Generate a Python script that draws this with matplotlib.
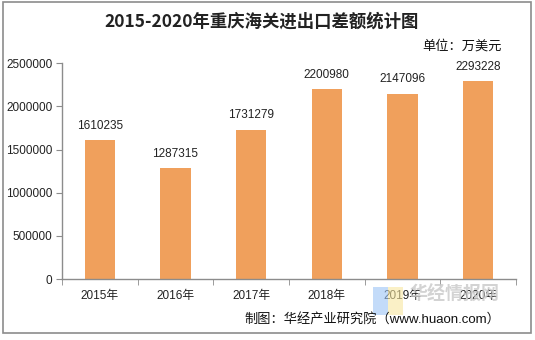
import matplotlib
matplotlib.use("Agg")
import matplotlib.pyplot as plt
from matplotlib.patches import Rectangle

years = ["2015年", "2016年", "2017年", "2018年", "2019年", "2020年"]
values = [1610235, 1287315, 1731279, 2200980, 2147096, 2293228]
yticks = [0, 500000, 1000000, 1500000, 2000000, 2500000]

FAM = ["Liberation Sans", "Noto Sans CJK SC", "DejaVu Sans"]
plt.rcParams["font.family"] = FAM

fig = plt.figure(figsize=(5.35, 3.4), dpi=100)
fig.patch.set_facecolor("white")
fig.patches.append(Rectangle((3/535, 7/340), 528/535, 331/340, transform=fig.transFigure,
                             fill=False, edgecolor="#8c8c8c", lw=1.2))

ax = fig.add_axes([62/535, 1-279/340, (516-62)/535, (279-63.3)/340])
x = list(range(len(years)))
ax.bar(x, values, width=0.4, color="#F0A05C")
ax.set_xlim(-0.5, len(years)-0.5)
ax.set_ylim(0, 2500000)
ax.set_yticks(yticks)
ax.set_yticklabels([str(v) for v in yticks], fontsize=8.5, color="#222222")
ax.set_xticks(x)
ax.set_xticklabels(years, fontsize=8.5, color="#222222")
ax.tick_params(axis="x", length=0, pad=8)
ax.set_xticks([i - 0.5 for i in range(len(years)+1)], minor=True)
ax.tick_params(axis="x", which="minor", length=4, color="#8c8c8c")
ax.tick_params(axis="y", length=4, color="#8c8c8c", pad=3)
for s in ["top", "right"]:
    ax.spines[s].set_visible(False)
for s in ["left", "bottom"]:
    ax.spines[s].set_color("#8c8c8c")
    ax.spines[s].set_linewidth(1)

for xi, v in zip(x, values):
    ax.annotate(str(v), (xi, v), xytext=(0, 6), textcoords="offset points",
                ha="center", va="bottom", fontsize=8.5, color="#222222")

fig.text(262/535, 1-22/340, "2015-2020年重庆海关进出口差额统计图", ha="center", va="center",
         fontsize=12.5, fontweight="bold", color="#222222", family=["Noto Sans CJK SC", "DejaVu Sans"])
fig.text(502/535, 1-46/340, "单位：万美元", ha="right", va="center", fontsize=9.5,
         color="#111111", family=["Noto Sans CJK SC", "DejaVu Sans"])
fig.text(500/535, 1-319/340, "制图：华经产业研究院（www.huaon.com）", ha="right", va="center",
         fontsize=9.5, color="#111111", family=FAM)
# watermark
fig.text(410/535, 1-294/340, "华经情报网", ha="left", va="center", fontsize=13,
         fontweight="bold", color="#c8c8c8", alpha=0.8, family=["Noto Sans CJK SC", "DejaVu Sans"])
fig.patches.append(Rectangle((373/535, 1-315/340), 15/535, 28/340, transform=fig.transFigure,
                             facecolor="#9cc3f5", alpha=0.6, edgecolor="none"))
fig.patches.append(Rectangle((388/535, 1-315/340), 15/535, 28/340, transform=fig.transFigure,
                             facecolor="#f7e6a0", alpha=0.6, edgecolor="none"))

fig.savefig("out.png", dpi=100)
